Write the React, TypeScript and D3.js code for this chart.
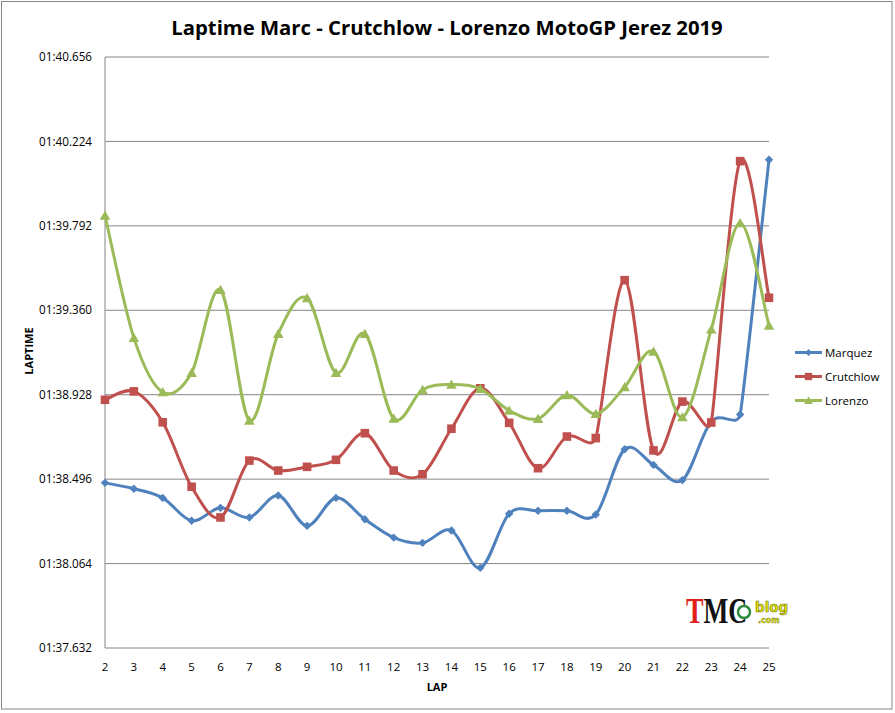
import * as d3 from "d3";

// lap times in seconds
const laps = d3.range(2, 26);
const marquez = [98.477, 98.447, 98.4, 98.283, 98.349, 98.3, 98.412, 98.257, 98.4, 98.291, 98.197, 98.17, 98.233, 98.042, 98.319, 98.334, 98.334, 98.315, 98.649, 98.569, 98.491, 98.791, 98.827, 100.13];
const crutchlow = [98.902, 98.945, 98.787, 98.457, 98.3, 98.591, 98.54, 98.559, 98.595, 98.731, 98.54, 98.521, 98.754, 98.961, 98.784, 98.552, 98.714, 98.706, 99.514, 98.643, 98.893, 98.786, 100.123, 99.424];
const lorenzo = [99.845, 99.219, 98.941, 99.04, 99.465, 98.796, 99.24, 99.422, 99.04, 99.24, 98.806, 98.953, 98.98, 98.958, 98.847, 98.805, 98.926, 98.83, 98.967, 99.149, 98.813, 99.262, 99.806, 99.282];
const yTicks = [97.632, 98.064, 98.496, 98.928, 99.36, 99.792, 100.224, 100.656];

const W = 895;
const H = 713;
const left = 105;
const right = 769;
const top = 57;
const bottom = 648;
const font = "Open Sans, Noto Sans, sans-serif";

const series = [
  { name: "Marquez", color: "#4F81BD", values: marquez, marker: "diamond" },
  { name: "Crutchlow", color: "#C0504D", values: crutchlow, marker: "square" },
  { name: "Lorenzo", color: "#9BBB59", values: lorenzo, marker: "triangle" },
];

const fmt = (s: number) => {
  const m = Math.floor(s / 60);
  const sec = (s - m * 60).toFixed(3).padStart(6, "0");
  return `${String(m).padStart(2, "0")}:${sec}`;
};

const markerPath = (kind: string, r: number) => {
  if (kind === "diamond") return `M0,${-r}L${r},0L0,${r}L${-r},0Z`;
  if (kind === "square") return `M${-r},${-r}H${r}V${r}H${-r}Z`;
  return `M0,${-r * 1.1}L${r * 1.15},${r * 0.9}L${-r * 1.15},${r * 0.9}Z`;
};

const markerSize: Record<string, number> = { diamond: 4.2, square: 4.3, triangle: 4.6 };

// excel-ish smoothed line: catmull-rom tangents, clipped so they never
// reach past half of the neighbouring segment
function smoothPath(pts: [number, number][]) {
  const p = d3.path();
  const n = pts.length;
  const dist = (a: [number, number], b: [number, number]) => Math.hypot(b[0] - a[0], b[1] - a[1]);
  const tan = pts.map((pt, i) => {
    const a = pts[Math.max(0, i - 1)];
    const b = pts[Math.min(n - 1, i + 1)];
    let vx = (b[0] - a[0]) / 6;
    let vy = (b[1] - a[1]) / 6;
    const len = Math.hypot(vx, vy);
    const lims = [];
    if (i > 0) lims.push(dist(pts[i - 1], pt) / 2);
    if (i < n - 1) lims.push(dist(pt, pts[i + 1]) / 2);
    const lim = Math.min(...lims);
    if (len > lim && len > 0) {
      vx *= lim / len;
      vy *= lim / len;
    }
    return [vx, vy];
  });
  p.moveTo(pts[0][0], pts[0][1]);
  for (let i = 0; i < n - 1; i++) {
    const a = pts[i];
    const b = pts[i + 1];
    p.bezierCurveTo(a[0] + tan[i][0], a[1] + tan[i][1], b[0] - tan[i + 1][0], b[1] - tan[i + 1][1], b[0], b[1]);
  }
  return p.toString();
}

export default function App() {
  document.body.style.margin = "0";

  const x = d3.scaleLinear().domain([2, 25]).range([left, right]);
  const y = d3.scaleLinear().domain([97.632, 100.656]).range([bottom, top]);

  return (
    <svg width={W} height={H} style={{ display: "block", background: "#fff" }}>
      <rect x={1.5} y={1.5} width={890.5} height={707.5} fill="#fff" stroke="#868686" strokeWidth={1} />

      <text x={447} y={35} textAnchor="middle" fontFamily={font} fontWeight="bold" fontSize={20.3} fill="#000">
        Laptime Marc - Crutchlow - Lorenzo MotoGP Jerez 2019
      </text>

      {/* gridlines + y labels */}
      {yTicks.map((t) => (
        <g key={t}>
          <line x1={left} x2={right} y1={y(t)} y2={y(t)} stroke="#868686" strokeWidth={1} />
          <text x={92} y={y(t)} dy="0.35em" textAnchor="end" fontFamily={font} fontSize={11.7} fill="#000">
            {fmt(t)}
          </text>
        </g>
      ))}
      <line x1={left} x2={left} y1={top} y2={bottom} stroke="#868686" strokeWidth={1} />

      {/* x labels */}
      {laps.map((l) => (
        <text key={l} x={x(l)} y={671} textAnchor="middle" fontFamily={font} fontSize={11.5} fill="#000">
          {l}
        </text>
      ))}

      <text x={437} y={691} textAnchor="middle" fontFamily={font} fontWeight="bold" fontSize={11}>
        LAP
      </text>
      <text transform="translate(33,351) rotate(-90)" textAnchor="middle" fontFamily={font} fontWeight="bold" fontSize={11}>
        LAPTIME
      </text>

      {/* series */}
      {series.map((s) => (
        <g key={s.name}>
          <path
            d={smoothPath(s.values.map((v, i) => [x(laps[i]), y(v)] as [number, number]))}
            fill="none"
            stroke={s.color}
            strokeWidth={3}
          />
          {s.values.map((v, i) => (
            <path
              key={i}
              d={markerPath(s.marker, markerSize[s.marker])}
              transform={`translate(${x(laps[i])},${y(v)})`}
              fill={s.color}
            />
          ))}
        </g>
      ))}

      {/* legend */}
      {series.map((s, i) => (
        <g key={s.name} transform={`translate(795,${352.5 + i * 24})`}>
          <line x1={0} x2={27} y1={0} y2={0} stroke={s.color} strokeWidth={3} />
          <path d={markerPath(s.marker, markerSize[s.marker] * 0.85)} transform="translate(13.5,0)" fill={s.color} />
          <text x={30} y={0} dy="0.35em" fontFamily={font} fontSize={11.5} fill="#000">
            {s.name}
          </text>
        </g>
      ))}

      {/* watermark */}
      <g>
        <text transform="translate(686,623) scale(0.75,1)" fontFamily="Liberation Serif, serif" fontWeight="bold" fontSize={35}>
          <tspan fill="#e0201b">T</tspan>
          <tspan fill="#111">MC</tspan>
        </text>
        <circle cx={744} cy={612} r={6} fill="#fff" stroke="#2e8b3a" strokeWidth={2.5} />
        <text x={755} y={612} fontFamily="DejaVu Sans, sans-serif" fontWeight="bold" fontSize={13.5} fill="#e8e000" stroke="#6b7a1a" strokeWidth={0.6}>
          blog
        </text>
        <text x={758} y={623} fontFamily="DejaVu Sans, sans-serif" fontWeight="bold" fontSize={8} fill="#e8e000" stroke="#6b7a1a" strokeWidth={0.4}>
          .com
        </text>
      </g>
    </svg>
  );
}
